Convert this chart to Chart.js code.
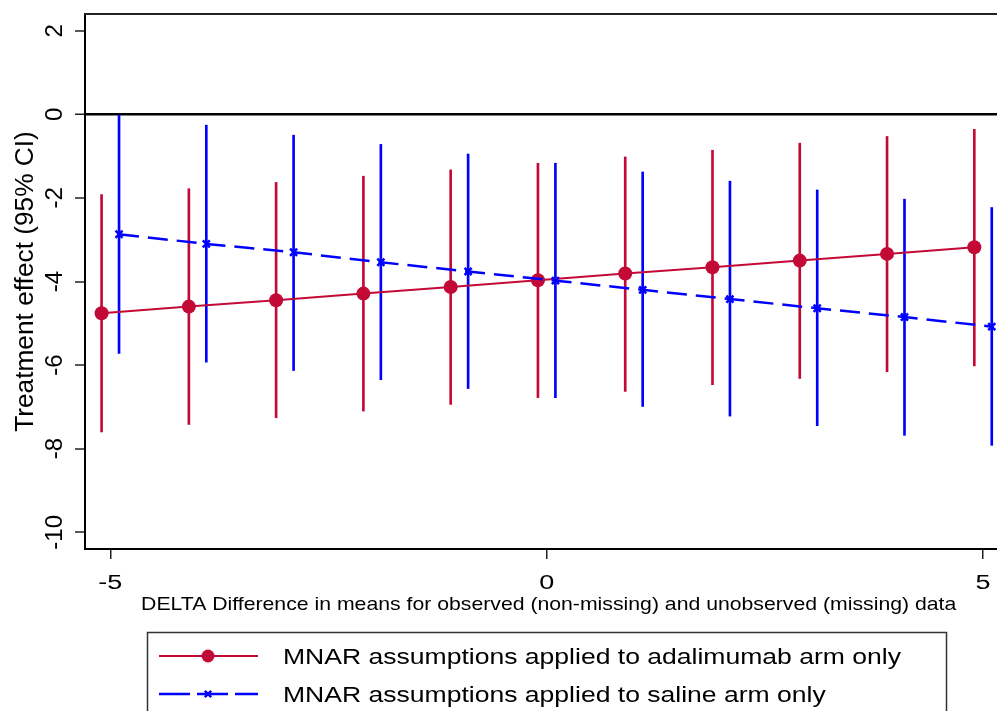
<!DOCTYPE html>
<html><head><meta charset="utf-8">
<script src="https://cdn.jsdelivr.net/npm/chart.js@4.4.1/dist/chart.umd.min.js"></script>
<style>html,body{margin:0;padding:0;background:#fff;overflow:hidden}#wrap{width:997px;height:711px;position:relative}</style>
</head><body><div id="wrap"><canvas id="c"></canvas></div>
<script>
// ---- data ----
const delta  = [-5, -4, -3, -2, -1, 0, 1, 2, 3, 4, 5];
const adaEst = [-4.76, -4.60, -4.45, -4.29, -4.13, -3.97, -3.81, -3.66, -3.50, -3.34, -3.18];
const adaLo  = [-7.60, -7.42, -7.26, -7.10, -6.94, -6.78, -6.63, -6.47, -6.32, -6.16, -6.02];
const adaHi  = [-1.92, -1.78, -1.63, -1.48, -1.33, -1.17, -1.02, -0.86, -0.69, -0.53, -0.36];
const salEst = [-2.87, -3.10, -3.30, -3.54, -3.76, -3.98, -4.20, -4.42, -4.64, -4.85, -5.08];
const salLo  = [-5.72, -5.93, -6.13, -6.35, -6.56, -6.78, -6.99, -7.22, -7.45, -7.68, -7.92];
const salHi  = [-0.02, -0.26, -0.50, -0.72, -0.95, -1.17, -1.38, -1.60, -1.81, -2.03, -2.23];
const xTicks = [-5, 0, 5];
const yTicks = [2, 0, -2, -4, -6, -8, -10];
const seriesLabels = ['MNAR assumptions applied to adalimumab arm only', 'MNAR assumptions applied to saline arm only'];
const xTitle = 'DELTA Difference in means for observed (non-missing) and unobserved (missing) data';
const yTitle = 'Treatment effect (95% CI)';

// ---- style ----
const RED = '#C30A36';
const BLUE = '#0000FF';
const JIT = 0.1; // horizontal dodge of the two series
const FONT = '"Liberation Sans", Arial, Helvetica, sans-serif';

const adaX = delta.map(d => d - JIT);
const salX = delta.map(d => d + JIT);

function txt(ctx, s, x, y, size, sx, sy, angle, align) {
  ctx.save();
  ctx.translate(x, y);
  if (angle) ctx.rotate(angle);
  ctx.scale(sx, sy);
  ctx.font = size + 'px ' + FONT;
  ctx.fillStyle = '#000';
  ctx.textAlign = align;
  ctx.textBaseline = 'alphabetic';
  ctx.fillText(s, 0, 0);
  ctx.restore();
}

const stataPlugin = {
  id: 'stata',
  afterDraw(chart) {
    const ctx = chart.ctx, ca = chart.chartArea, xs = chart.scales.x, ys = chart.scales.y;
    // top frame line
    ctx.save();
    ctx.strokeStyle = '#222'; ctx.lineWidth = 2;
    ctx.beginPath(); ctx.moveTo(ca.left - 1, ca.top); ctx.lineTo(ca.right, ca.top); ctx.stroke();
    ctx.restore();
    // tick labels
    xs.ticks.forEach(t => txt(ctx, String(t.value), xs.getPixelForValue(t.value), ca.bottom + 40, 20, 1.35, 1, 0, 'center'));
    ys.ticks.forEach(t => txt(ctx, String(t.value), ca.left - 23, ys.getPixelForValue(t.value), 24, 1, 1, -Math.PI / 2, 'center'));
    // axis titles
    txt(ctx, xs.options.title.text, xs.getPixelForValue(0) + 2, ca.bottom + 61, 17.7, 1.2, 1, 0, 'center');
    txt(ctx, ys.options.title.text, ca.left - 52, (ca.top + ca.bottom) / 2, 25.5, 1.03, 1, -Math.PI / 2, 'center');
    // legend
    const L = {left: 147, top: 632, right: 946, bottom: 760};
    ctx.save();
    ctx.strokeStyle = '#333'; ctx.lineWidth = 1.5;
    ctx.strokeRect(L.left + 0.5, L.top + 0.5, L.right - L.left, L.bottom - L.top);
    ctx.restore();
    const rows = [chart.data.datasets[2], chart.data.datasets[3]];
    rows.forEach((ds, r) => {
      const cy = 656 + r * 38;
      ctx.save();
      ctx.strokeStyle = ds.borderColor; ctx.lineWidth = ds.borderWidth;
      ctx.setLineDash(ds.borderDash ? [31, 7] : []);
      ctx.beginPath(); ctx.moveTo(159, cy); ctx.lineTo(258, cy); ctx.stroke();
      ctx.setLineDash([]);
      if (ds.pointStyle === 'circle') {
        ctx.fillStyle = ds.pointBackgroundColor;
        ctx.beginPath(); ctx.arc(208, cy, 6.5, 0, Math.PI * 2); ctx.fill();
      } else {
        const d = 3.2;
        ctx.strokeStyle = ds.pointBorderColor; ctx.lineWidth = 2.5;
        ctx.beginPath();
        ctx.moveTo(208 - d, cy - d); ctx.lineTo(208 + d, cy + d);
        ctx.moveTo(208 - d, cy + d); ctx.lineTo(208 + d, cy - d);
        ctx.stroke();
      }
      ctx.restore();
      txt(ctx, ds.label, 283, cy + 8, 22.3, 1.19, 1, 0, 'left');
    });
  }
};

new Chart(document.getElementById('c'), {
  type: 'line',
  data: {
    datasets: [
      {
        type: 'bar', label: 'adalimumab 95% CI',
        data: adaX.map((x, i) => ({x: x, y: [adaLo[i], adaHi[i]]})),
        backgroundColor: RED, borderWidth: 0, barThickness: 2, grouped: false, order: 4
      },
      {
        type: 'bar', label: 'saline 95% CI',
        data: salX.map((x, i) => ({x: x, y: [salLo[i], salHi[i]]})),
        backgroundColor: BLUE, borderWidth: 0, barThickness: 2, grouped: false, order: 3
      },
      {
        type: 'line', label: seriesLabels[0],
        data: adaX.map((x, i) => ({x: x, y: adaEst[i]})),
        borderColor: RED, borderWidth: 2, tension: 0, fill: false,
        pointStyle: 'circle', pointRadius: 7, pointBackgroundColor: RED, pointBorderColor: RED, pointBorderWidth: 0,
        order: 2
      },
      {
        type: 'line', label: seriesLabels[1],
        data: salX.map((x, i) => ({x: x, y: salEst[i]})),
        borderColor: BLUE, borderWidth: 2.5, borderDash: [20, 9], tension: 0, fill: false,
        pointStyle: 'crossRot', pointRadius: 5, pointBackgroundColor: BLUE, pointBorderColor: BLUE, pointBorderWidth: 2.5,
        order: 1
      }
    ]
  },
  options: {
    responsive: true, maintainAspectRatio: false, animation: false,
    layout: {autoPadding: false, padding: {left: 0, right: 0, top: 14, bottom: 92}},
    plugins: {legend: {display: false}, tooltip: {enabled: false}},
    scales: {
      x: {
        type: 'linear', min: -5.29, max: 5.16, offset: false,
        afterBuildTicks: s => { s.ticks = xTicks.map(v => ({value: v})); },
        afterFit: s => { s.height = 70; },
        ticks: {display: false},
        grid: {drawOnChartArea: false, offset: false, tickLength: 10, tickColor: '#222', tickWidth: 1.5, lineWidth: 1.5},
        border: {display: true, color: '#000', width: 2},
        title: {display: false, text: xTitle}
      },
      y: {
        type: 'linear', min: -10.4, max: 2.4,
        afterBuildTicks: s => { s.ticks = yTicks.map(v => ({value: v})); },
        afterFit: s => { s.width = 85; },
        ticks: {display: false},
        grid: {
          drawOnChartArea: true,
          color: c => (c.tick && c.tick.value === 0) ? '#000' : 'rgba(0,0,0,0)',
          lineWidth: c => (c.tick && c.tick.value === 0) ? 2.5 : 0,
          tickLength: 10, tickColor: '#222', tickWidth: 1.5
        },
        border: {display: true, color: '#000', width: 2},
        title: {display: false, text: yTitle}
      }
    }
  },
  plugins: [stataPlugin]
});
</script>
</body></html>
